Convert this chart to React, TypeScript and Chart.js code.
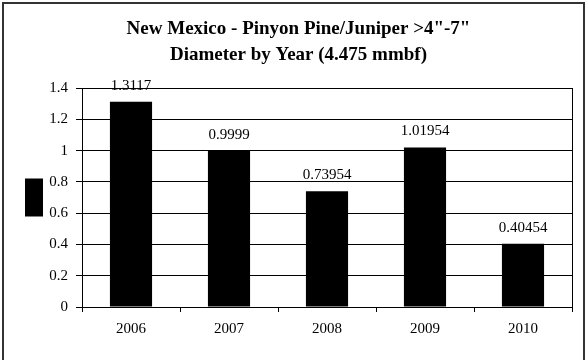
import React, { useEffect, useRef } from "react";
import { Chart, registerables } from "chart.js";

Chart.register(...registerables);

const categories = ["2006", "2007", "2008", "2009", "2010"];
const values = [1.3117, 0.9999, 0.73954, 1.01954, 0.40454];
const valueLabels = ["1.3117", "0.9999", "0.73954", "1.01954", "0.40454"];
const titleLines = ['New Mexico - Pinyon Pine/Juniper >4"-7"', "Diameter by Year (4.475 mmbf)"];
const yMin = 0;
const yMax = 1.4;
const yStep = 0.2;

const SERIF = '"Liberation Serif", "Times New Roman", serif';

const valueLabelPlugin = {
  id: "valueLabels",
  afterDatasetsDraw(chart: any) {
    const ctx = chart.ctx;
    const meta = chart.getDatasetMeta(0);
    ctx.save();
    ctx.font = `15px ${SERIF}`;
    ctx.fillStyle = "#000";
    ctx.textAlign = "center";
    ctx.textBaseline = "middle";
    meta.data.forEach((bar: any, i: number) => {
      ctx.fillText(valueLabels[i], bar.x, bar.y - 16);
    });
    ctx.restore();
  },
};

const frameRightPlugin = {
  id: "frameRight",
  afterDraw(chart: any) {
    const { ctx, chartArea } = chart;
    ctx.save();
    ctx.strokeStyle = "#000";
    ctx.lineWidth = 1;
    const x = Math.round(chartArea.right) + 0.5;
    ctx.beginPath();
    ctx.moveTo(x, chartArea.top);
    ctx.lineTo(x, chartArea.bottom);
    ctx.stroke();
    ctx.restore();
  },
};

export default function App() {
  const canvasRef = useRef<HTMLCanvasElement | null>(null);

  useEffect(() => {
    const canvas = canvasRef.current;
    if (!canvas) return;
    const chart = new Chart(canvas, {
      type: "bar",
      data: {
        labels: categories,
        datasets: [
          {
            label: "",
            data: values,
            backgroundColor: "#000",
            borderColor: "#000",
            borderWidth: 0,
            categoryPercentage: 1,
            barPercentage: 0.43,
          },
        ],
      },
      options: {
        responsive: false,
        animation: false,
        devicePixelRatio: 1,
        layout: { padding: { left: 25, right: 16, top: 0, bottom: 0 } },
        plugins: {
          title: {
            display: true,
            text: titleLines,
            color: "#000",
            font: { family: SERIF, size: 19, weight: "bold", lineHeight: "26px" },
            padding: { top: 16, bottom: 20 },
          },
          legend: {
            display: true,
            position: "left",
            fullSize: false,
            align: "center",
            maxWidth: 22,
            onClick: () => {},
            labels: {
              boxWidth: 18,
              boxHeight: 38,
              padding: 0,
              font: { family: SERIF, size: 15 },
              color: "#000",
            },
          },
          tooltip: { enabled: false },
        },
        scales: {
          x: {
            grid: {
              display: true,
              drawOnChartArea: false,
              drawTicks: true,
              tickLength: 5,
              color: "#000",
              offset: true,
            },
            border: { display: true, color: "#000" },
            ticks: {
              color: "#000",
              font: { family: SERIF, size: 15 },
              padding: 8,
              maxRotation: 0,
            },
            afterFit(scale: any) {
              scale.height = 53;
            },
          },
          y: {
            min: yMin,
            max: yMax,
            grid: { color: "#000", tickLength: 6, drawTicks: true },
            border: { display: true, color: "#000" },
            ticks: {
              stepSize: yStep,
              color: "#000",
              font: { family: SERIF, size: 15 },
              padding: 8,
              callback: (v: any) => String(Math.round(Number(v) * 10) / 10),
            },
            afterFit(scale: any) {
              scale.width = 35;
            },
          },
        },
      },
      plugins: [valueLabelPlugin, frameRightPlugin],
    });
    return () => chart.destroy();
  }, []);

  return (
    <div
      style={{
        position: "fixed",
        left: 0,
        top: 0,
        width: 588,
        height: 360,
        background: "#fff",
        overflow: "hidden",
      }}
    >
      <canvas ref={canvasRef} width={588} height={360} style={{ display: "block" }} />
      <div
        style={{
          position: "absolute",
          left: 2,
          top: 2,
          width: 583,
          height: 420,
          boxSizing: "border-box",
          border: "2px solid #333",
          pointerEvents: "none",
        }}
      />
    </div>
  );
}
